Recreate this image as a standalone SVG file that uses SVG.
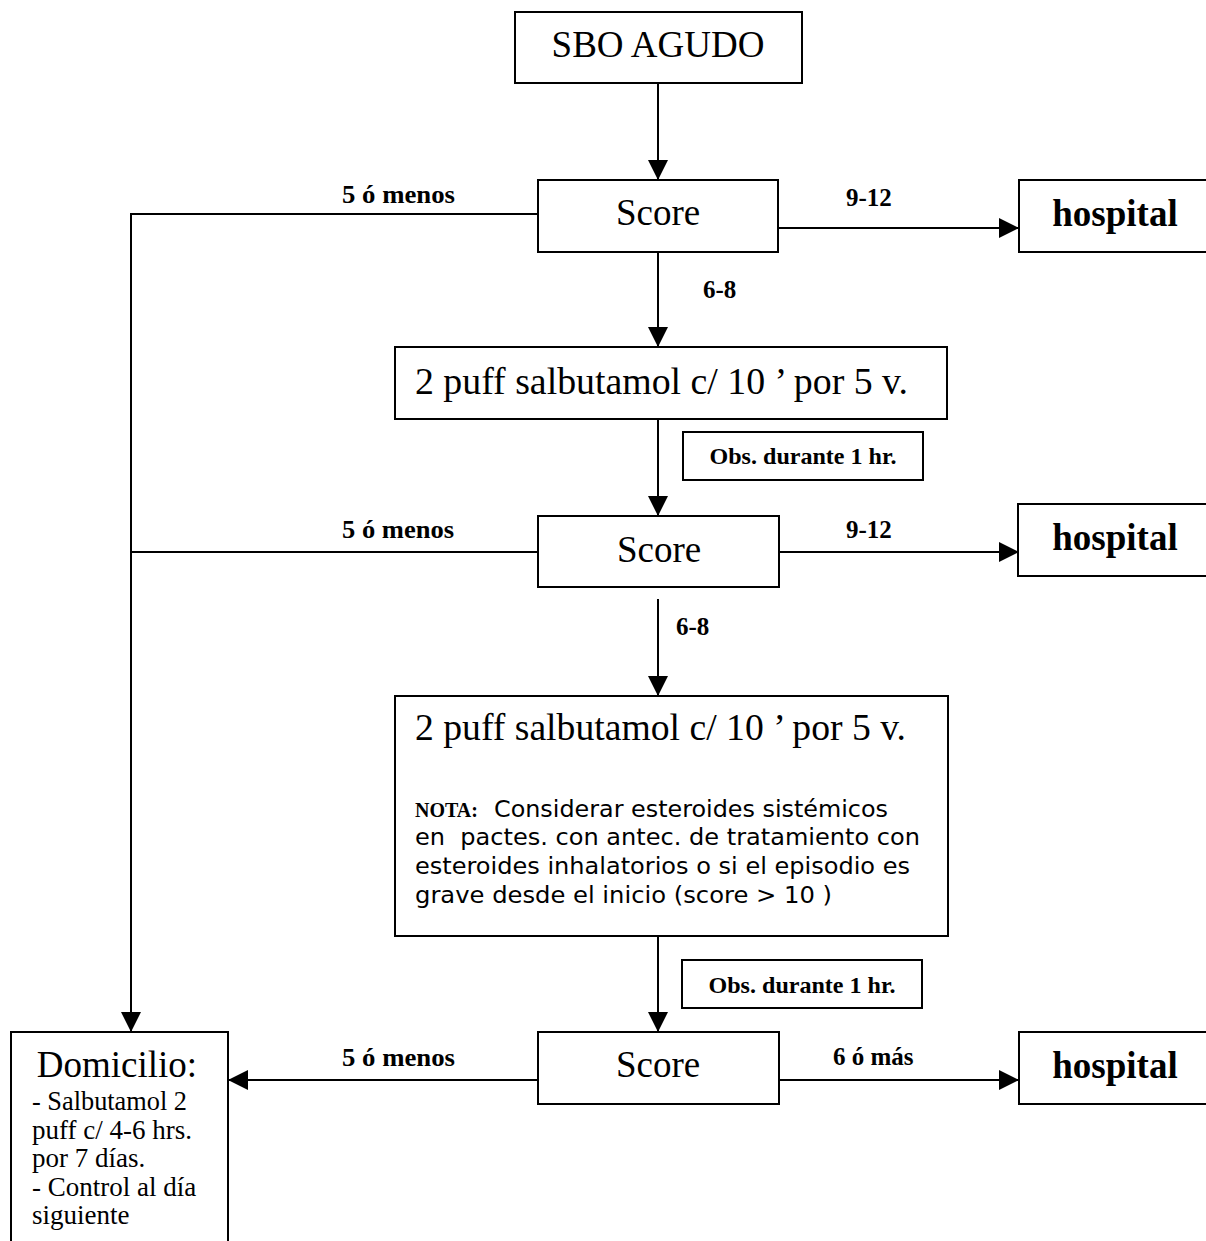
<svg xmlns="http://www.w3.org/2000/svg" width="1206" height="1241" viewBox="0 0 1206 1241">
<style>
.box{fill:#fff;stroke:#000;stroke-width:2}
.ln{fill:none;stroke:#000;stroke-width:2}
.big{font-family:"Liberation Serif",serif;font-size:37px;fill:#000}
.bigb{font-family:"Liberation Serif",serif;font-size:37px;font-weight:bold;fill:#000}
.lbl{font-family:"Liberation Serif",serif;font-size:25px;font-weight:bold;fill:#000}
.obs{font-family:"Liberation Serif",serif;font-size:23px;font-weight:bold;fill:#000}
.dom{font-family:"Liberation Serif",serif;font-size:27px;fill:#000}
.nota{font-family:"DejaVu Sans","Verdana",sans-serif;font-size:23px;fill:#000}
.notab{font-family:"Liberation Serif",serif;font-size:20px;font-weight:bold}
</style>
<defs>
<marker id="ah" viewBox="0 0 20 20" refX="20" refY="10" markerWidth="20" markerHeight="20" markerUnits="userSpaceOnUse" orient="auto">
<path d="M0,0 L20,10 L0,20 Z" fill="#000"/>
</marker>
</defs>

<g id="connectors">
<line class="ln" x1="658" y1="83" x2="658" y2="180" marker-end="url(#ah)"/>
<line class="ln" x1="778" y1="228" x2="1019" y2="228" marker-end="url(#ah)"/>
<polyline class="ln" points="538,214 131,214 131,1032" marker-end="url(#ah)"/>
<line class="ln" x1="658" y1="252" x2="658" y2="347" marker-end="url(#ah)"/>
<line class="ln" x1="658" y1="419" x2="658" y2="516" marker-end="url(#ah)"/>
<line class="ln" x1="778" y1="552" x2="1019" y2="552" marker-end="url(#ah)"/>
<line class="ln" x1="538" y1="552" x2="131" y2="552"/>
<line class="ln" x1="658" y1="599" x2="658" y2="696" marker-end="url(#ah)"/>
<line class="ln" x1="658" y1="936" x2="658" y2="1032" marker-end="url(#ah)"/>
<line class="ln" x1="538" y1="1080" x2="228" y2="1080" marker-end="url(#ah)"/>
<line class="ln" x1="778" y1="1080" x2="1019" y2="1080" marker-end="url(#ah)"/>
<text class="lbl" x="342" y="203" textLength="113" lengthAdjust="spacingAndGlyphs">5 ó menos</text>
<text class="lbl" x="846" y="206">9-12</text>
<text class="lbl" x="703" y="298">6-8</text>
<text class="lbl" x="342" y="538" textLength="112" lengthAdjust="spacingAndGlyphs">5 ó menos</text>
<text class="lbl" x="846" y="538">9-12</text>
<text class="lbl" x="676" y="635">6-8</text>
<text class="lbl" x="342" y="1066" textLength="113" lengthAdjust="spacingAndGlyphs">5 ó menos</text>
<text class="lbl" x="833" y="1065">6 ó más</text>
</g>

<g id="sbo">
<rect class="box" x="515" y="12" width="287" height="71"/>
<text class="big" x="658" y="57" text-anchor="middle">SBO AGUDO</text>
</g>

<g id="score1">
<rect class="box" x="538" y="180" width="240" height="72"/>
<text class="big" x="658" y="225" text-anchor="middle">Score</text>
</g>

<g id="hospital1">
<rect class="box" x="1019" y="180" width="200" height="72"/>
<text class="bigb" x="1115" y="226" text-anchor="middle">hospital</text>
</g>

<g id="tratamiento1">
<rect class="box" x="395" y="347" width="552" height="72"/>
<text class="big" x="415" y="394" textLength="493" lengthAdjust="spacingAndGlyphs">2 puff salbutamol c/ 10 ’ por 5 v.</text>
</g>

<g id="obs1">
<rect class="box" x="683" y="432" width="240" height="48"/>
<text class="obs" x="803" y="464" text-anchor="middle" textLength="187" lengthAdjust="spacingAndGlyphs">Obs. durante 1 hr.</text>
</g>

<g id="score2">
<rect class="box" x="538" y="516" width="241" height="71"/>
<text class="big" x="659" y="562" text-anchor="middle">Score</text>
</g>

<g id="hospital2">
<rect class="box" x="1018" y="504" width="200" height="72"/>
<text class="bigb" x="1115" y="550" text-anchor="middle">hospital</text>
</g>

<g id="tratamiento2">
<rect class="box" x="395" y="696" width="553" height="240"/>
<text class="big" x="415" y="740" textLength="491" lengthAdjust="spacingAndGlyphs">2 puff salbutamol c/ 10 ’ por 5 v.</text>
<text class="nota" x="415" y="817"><tspan class="notab">NOTA:</tspan></text>
<text class="nota" x="494" y="817" textLength="394" lengthAdjust="spacingAndGlyphs">Considerar esteroides sistémicos</text>
<text class="nota" x="415" y="845" textLength="505" lengthAdjust="spacingAndGlyphs">en&#160; pactes. con antec. de tratamiento con</text>
<text class="nota" x="415" y="874" textLength="495" lengthAdjust="spacingAndGlyphs">esteroides inhalatorios o si el episodio es</text>
<text class="nota" x="415" y="903" textLength="417" lengthAdjust="spacingAndGlyphs">grave desde el inicio (score &gt; 10 )</text>
</g>

<g id="obs2">
<rect class="box" x="682" y="960" width="240" height="48"/>
<text class="obs" x="802" y="993" text-anchor="middle" textLength="187" lengthAdjust="spacingAndGlyphs">Obs. durante 1 hr.</text>
</g>

<g id="score3">
<rect class="box" x="538" y="1032" width="241" height="72"/>
<text class="big" x="658" y="1077" text-anchor="middle">Score</text>
</g>

<g id="hospital3">
<rect class="box" x="1019" y="1032" width="200" height="72"/>
<text class="bigb" x="1115" y="1078" text-anchor="middle">hospital</text>
</g>

<g id="domicilio">
<rect class="box" x="11" y="1032" width="217" height="230"/>
<text class="big" x="117" y="1077" text-anchor="middle">Domicilio:</text>
<text class="dom" x="32" y="1110" textLength="155" lengthAdjust="spacingAndGlyphs">- Salbutamol 2</text>
<text class="dom" x="32" y="1139">puff c/ 4-6 hrs.</text>
<text class="dom" x="32" y="1167">por 7 días.</text>
<text class="dom" x="32" y="1196">- Control al día</text>
<text class="dom" x="32" y="1224">siguiente</text>
</g>
</svg>
